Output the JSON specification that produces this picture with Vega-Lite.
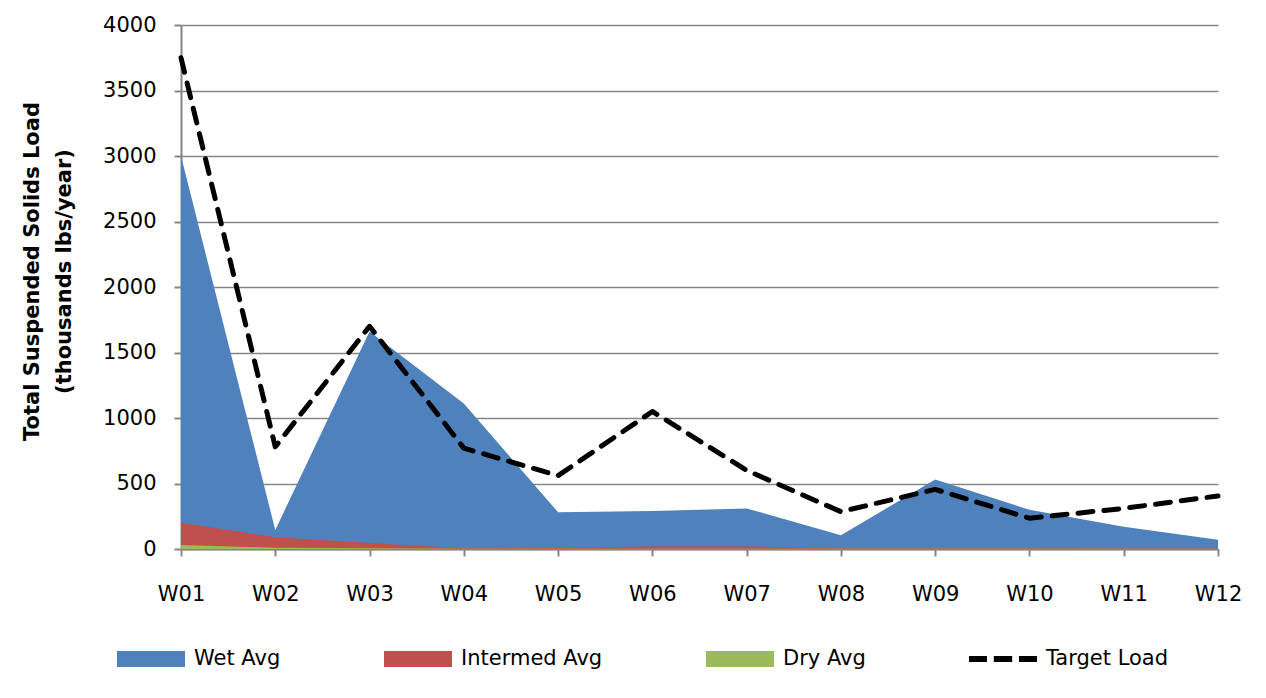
{
  "$schema": "https://vega.github.io/schema/vega-lite/v6.json",
  "width": 1037,
  "height": 524,
  "autosize": {"type": "none"},
  "padding": {"left": 181, "top": 25, "right": 48, "bottom": 149},
  "background": "white",
  "config": {
    "font": "DejaVu Sans",
    "view": {"stroke": null},
    "axis": {"labelFont": "DejaVu Sans", "titleFont": "DejaVu Sans"},
    "legend": {"labelFont": "DejaVu Sans"}
  },
  "data": {
    "values": [
      {"site": "W01", "series": "Wet Avg", "value": 3000},
      {"site": "W02", "series": "Wet Avg", "value": 145},
      {"site": "W03", "series": "Wet Avg", "value": 1660},
      {"site": "W04", "series": "Wet Avg", "value": 1110},
      {"site": "W05", "series": "Wet Avg", "value": 280},
      {"site": "W06", "series": "Wet Avg", "value": 290},
      {"site": "W07", "series": "Wet Avg", "value": 310},
      {"site": "W08", "series": "Wet Avg", "value": 105},
      {"site": "W09", "series": "Wet Avg", "value": 530},
      {"site": "W10", "series": "Wet Avg", "value": 300},
      {"site": "W11", "series": "Wet Avg", "value": 170},
      {"site": "W12", "series": "Wet Avg", "value": 70},
      {"site": "W01", "series": "Intermed Avg", "value": 200},
      {"site": "W02", "series": "Intermed Avg", "value": 90},
      {"site": "W03", "series": "Intermed Avg", "value": 45},
      {"site": "W04", "series": "Intermed Avg", "value": 5},
      {"site": "W05", "series": "Intermed Avg", "value": 10},
      {"site": "W06", "series": "Intermed Avg", "value": 20},
      {"site": "W07", "series": "Intermed Avg", "value": 20},
      {"site": "W08", "series": "Intermed Avg", "value": 5},
      {"site": "W09", "series": "Intermed Avg", "value": 5},
      {"site": "W10", "series": "Intermed Avg", "value": 5},
      {"site": "W11", "series": "Intermed Avg", "value": 3},
      {"site": "W12", "series": "Intermed Avg", "value": 3},
      {"site": "W01", "series": "Dry Avg", "value": 30},
      {"site": "W02", "series": "Dry Avg", "value": 10},
      {"site": "W03", "series": "Dry Avg", "value": 5},
      {"site": "W04", "series": "Dry Avg", "value": 2},
      {"site": "W05", "series": "Dry Avg", "value": 2},
      {"site": "W06", "series": "Dry Avg", "value": 2},
      {"site": "W07", "series": "Dry Avg", "value": 2},
      {"site": "W08", "series": "Dry Avg", "value": 1},
      {"site": "W09", "series": "Dry Avg", "value": 1},
      {"site": "W10", "series": "Dry Avg", "value": 1},
      {"site": "W11", "series": "Dry Avg", "value": 1},
      {"site": "W12", "series": "Dry Avg", "value": 1},
      {"site": "W01", "series": "Target Load", "value": 3750},
      {"site": "W02", "series": "Target Load", "value": 780},
      {"site": "W03", "series": "Target Load", "value": 1700},
      {"site": "W04", "series": "Target Load", "value": 770},
      {"site": "W05", "series": "Target Load", "value": 560},
      {"site": "W06", "series": "Target Load", "value": 1050},
      {"site": "W07", "series": "Target Load", "value": 600},
      {"site": "W08", "series": "Target Load", "value": 285},
      {"site": "W09", "series": "Target Load", "value": 455},
      {"site": "W10", "series": "Target Load", "value": 235},
      {"site": "W11", "series": "Target Load", "value": 310},
      {"site": "W12", "series": "Target Load", "value": 405}
    ]
  },
  "encoding": {
    "x": {
      "field": "site", "type": "ordinal",
      "scale": {"type": "point", "padding": 0},
      "axis": {
        "title": null, "labelAngle": 0, "grid": false,
        "domainColor": "#868686", "domainWidth": 2,
        "tickColor": "#868686", "tickWidth": 2, "tickSize": 7,
        "labelFontSize": 21, "labelColor": "#000000", "labelPadding": 27
      }
    },
    "y": {
      "field": "value", "type": "quantitative",
      "scale": {"domain": [0, 4000], "nice": false},
      "axis": {
        "values": [0, 500, 1000, 1500, 2000, 2500, 3000, 3500, 4000],
        "format": "d",
        "title": ["Total Suspended Solids Load", "(thousands lbs/year)"],
        "titleFontSize": 21, "titleFontWeight": "bold", "titleColor": "#000000",
        "titleLineHeight": 32, "titleBaseline": "alphabetic",
        "titleX": -143, "titleY": 246, "titleAlign": "center", "titleAngle": -90,
        "gridColor": "#868686", "gridWidth": 1.5,
        "domainColor": "#868686", "domainWidth": 2,
        "tickColor": "#868686", "tickWidth": 2, "tickSize": 7,
        "labelFontSize": 21, "labelColor": "#000000", "labelPadding": 18
      }
    },
    "color": {
      "field": "series", "type": "nominal",
      "scale": {
        "domain": ["Wet Avg", "Intermed Avg", "Dry Avg", "Target Load"],
        "range": ["#4f81bd", "#c0504d", "#9bbb59", "#000000"]
      },
      "legend": {
        "title": null, "orient": "none", "direction": "horizontal",
        "legendX": -64, "legendY": 600,
        "labelFontSize": 21, "labelColor": "#000000", "labelOffset": 9,
        "columnPadding": 103, "symbolSize": 4624,
        "symbolStrokeWidth": 0,
        "encode": {
          "symbols": {
            "update": {
              "fill": {"scale": "color", "field": "value"},
              "stroke": {"value": "transparent"},
              "strokeWidth": {"value": 0},
              "opacity": {"value": 1},
              "fillOpacity": {"value": 1},
              "shape": [
                {"test": "datum.value === 'Target Load'", "value": "M-1,-0.09h0.53v0.18h-0.53z M-0.27,-0.09h0.54v0.18h-0.54z M0.47,-0.09h0.53v0.18h-0.53z"},
                {"value": "M-1,-0.235H1V0.235H-1Z"}
              ]
            }
          }
        }
      }
    }
  },
  "layer": [
    {
      "transform": [{"filter": "datum.series === 'Wet Avg'"}],
      "mark": {"type": "area", "opacity": 1},
      "encoding": {"y": {"field": "value", "type": "quantitative", "stack": null}}
    },
    {
      "transform": [{"filter": "datum.series === 'Intermed Avg'"}],
      "mark": {"type": "area", "opacity": 1},
      "encoding": {"y": {"field": "value", "type": "quantitative", "stack": null}}
    },
    {
      "transform": [{"filter": "datum.series === 'Dry Avg'"}],
      "mark": {"type": "area", "opacity": 1},
      "encoding": {"y": {"field": "value", "type": "quantitative", "stack": null}}
    },
    {
      "transform": [{"filter": "datum.series === 'Target Load'"}],
      "mark": {"type": "line", "strokeWidth": 5, "strokeDash": [15, 11], "strokeCap": "round", "strokeJoin": "round"},
      "encoding": {}
    }
  ]
}
